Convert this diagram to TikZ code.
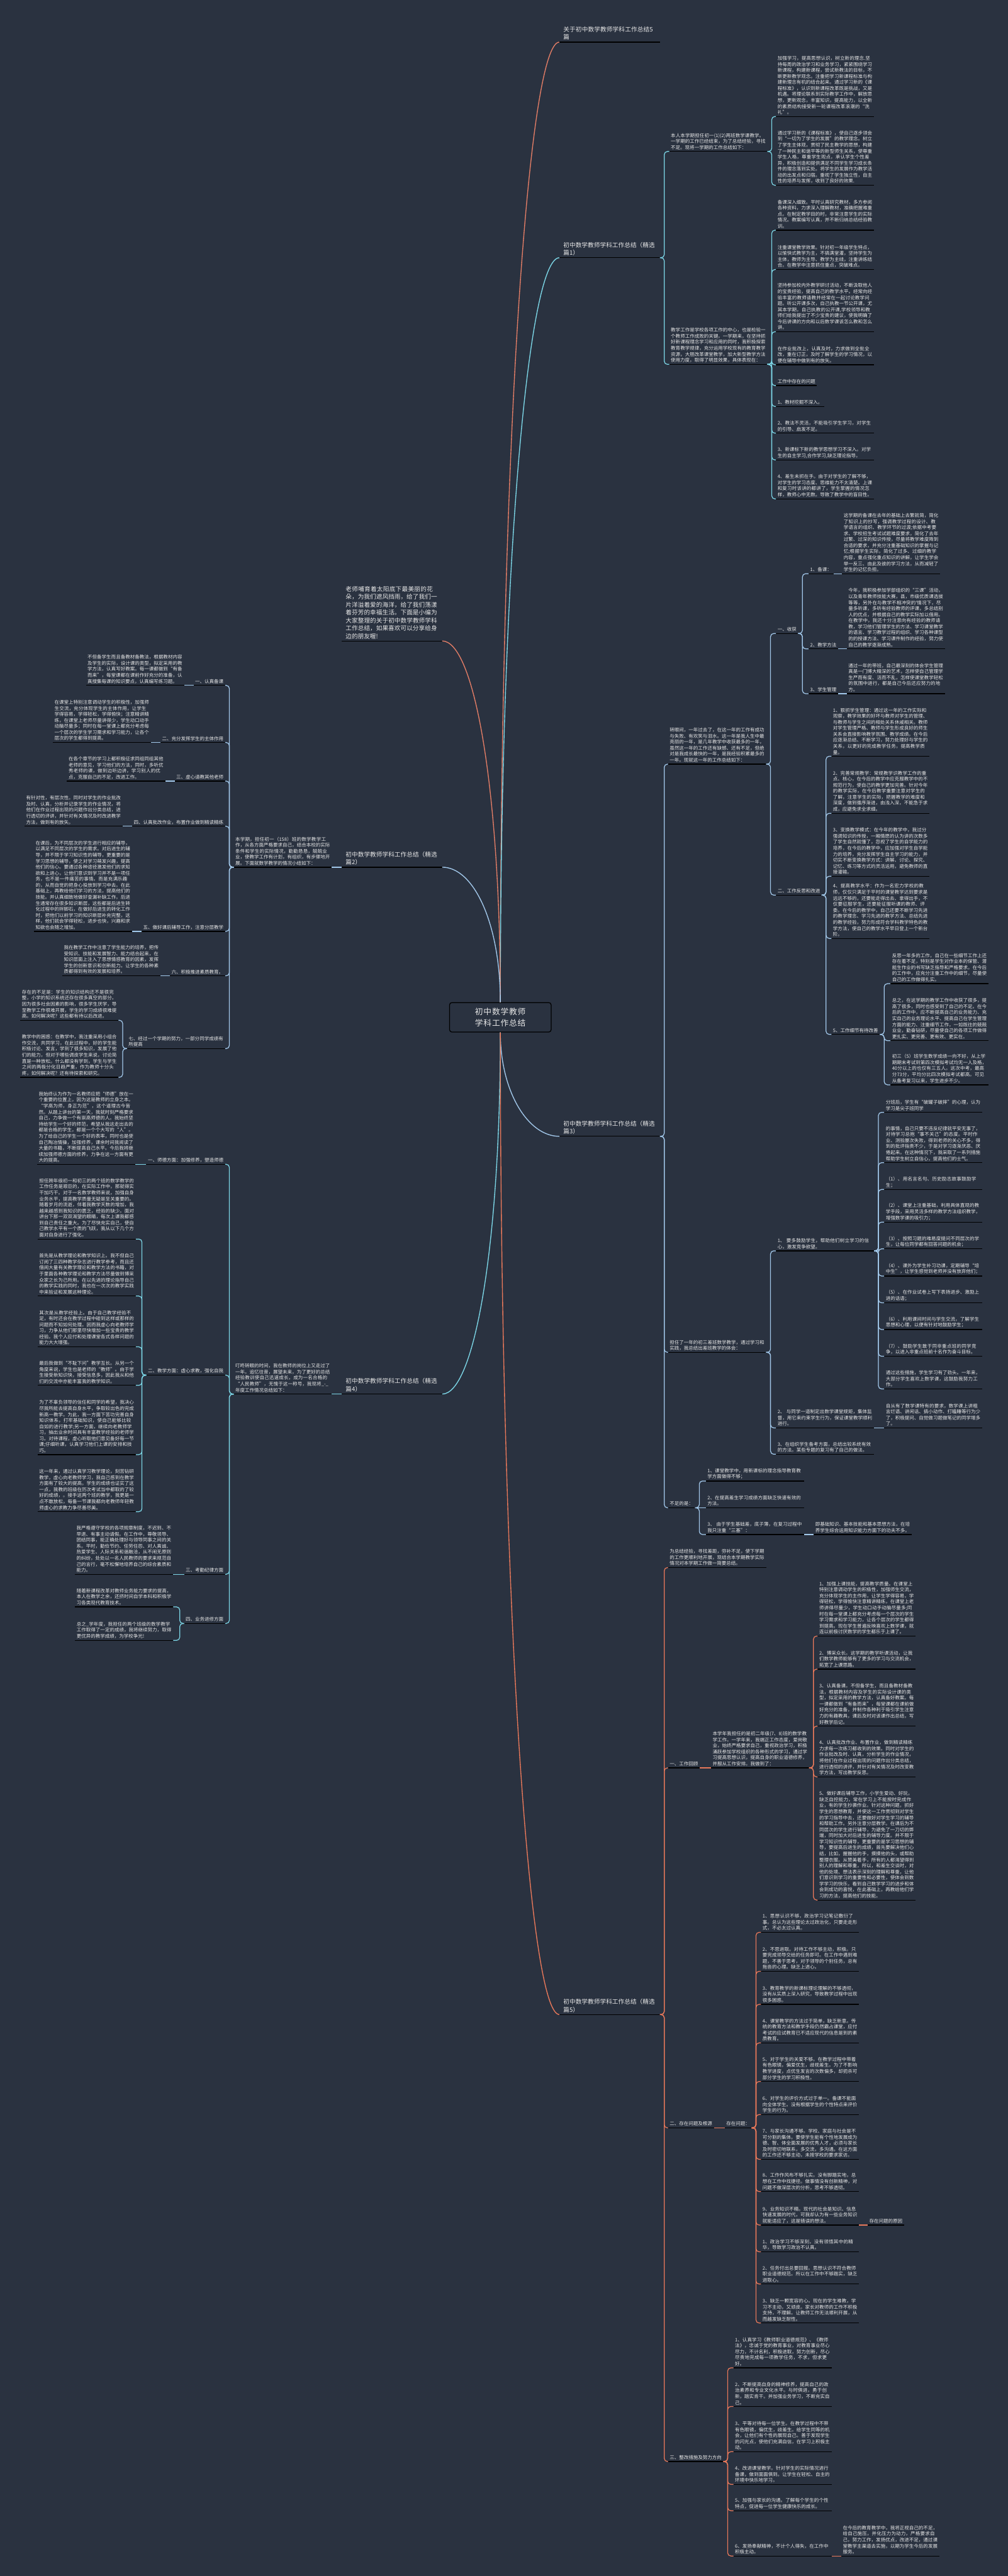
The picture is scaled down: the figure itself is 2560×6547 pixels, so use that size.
\documentclass[tikz,border=0pt]{standalone}
\usepackage{fontspec}
\newfontfamily\cjk{Noto Sans CJK SC}
\XeTeXlinebreaklocale "zh"
\XeTeXlinebreakskip=0pt plus 1pt
\definecolor{bg}{HTML}{2A3240}
\definecolor{txt}{HTML}{E8E8E8}
\definecolor{cA}{HTML}{E27D66}
\definecolor{cB}{HTML}{7CD6E6}
\definecolor{cC}{HTML}{A2C8EA}
\definecolor{cD}{HTML}{E8785A}
\tikzset{
  ulc/.style={draw=black, line width=2pt},
  base/.style={font=\cjk\fontsize{12}{15.3}\selectfont, text=txt, inner xsep=4pt, inner ysep=4.5pt, anchor=south west,
    append after command={(\tikzlastnode.south west) edge[ulc] (\tikzlastnode.south east)}},
  para/.style={base, text width=241pt, align=left},
  lbl/.style={base},
  big/.style={base, font=\cjk\fontsize{15.4}{20}\selectfont, text width=235pt, align=left, inner xsep=10pt, inner ysep=5pt},
  conn/.style={line width=2pt, rounded corners=8pt},
  trunk/.style={line width=2.2pt},
}
\newcommand\linkR[3]{\draw[conn,#1] (#2.south east) -- ++(11,0) |- (#3.south west);}
\newcommand\linkL[3]{\draw[conn,#1] (#2.south west) -- ++(-11,0) |- (#3.south east);}
\newcommand\linkS[3]{\draw[conn,#1] (#2.south east) -- (#3.south west);}
\newcommand\linkSL[3]{\draw[conn,#1] (#2.south west) -- (#3.south east);}
\begin{document}
\begin{tikzpicture}[x=1pt,y=-1pt]
\fill[bg] (0,0) rectangle (2560,6547);
\useasboundingbox (0,0) rectangle (2560,6547);

% centre
\node[draw=black, line width=2pt, fill=bg, rounded corners=6pt, minimum width=258pt, minimum height=75pt, text width=230pt, align=center, font=\cjk\fontsize{20.4}{28}\selectfont, text=txt] (ctr) at (1271,2585.5) {初中数学教师学科工作总结};

% top labels
\node[big] (t0) at (1421,107) {关于初中数学教师学科工作总结5篇};
\node[big] (note) at (868,1629) {老师哺育着太阳底下最美丽的花朵，为我们遮风挡雨，给了我们一片洋溢着爱的海洋，给了我们荡漾着芬芳的幸福生活。下面是小编为大家整理的关于初中数学教师学科工作总结，如果喜欢可以分享给身边的朋友喔!};

% ===== 精选篇1 =====
\node[big] (l1) at (1421,655) {初中数学教师学科工作总结（精选篇1）};
\node[para] (m1a) at (1700,385) {本人本学期担任初一(1)(2)两班数学课教学。一学期的工作已经结束，为了总结经验，寻找不足。现将一学期的工作总结如下：};
\node[para] (m1b) at (1700,926) {教学工作是学校各项工作的中心，也是检验一个教师工作成败的关键。一学期来，在坚持抓好新课程理念学习和应用的同时，我积极探索教育教学规律，充分运用学校现有的教育教学资源，大胆改革课堂教学，加大新型教学方法使用力度，取得了明显效果，具体表现在：};
\node[para] (p1) at (1971,296) {加强学习，提高思想认识，树立新的理念.坚持每周的政治学习和业务学习，紧紧围绕学习新课程，构建新课程，尝试新教法的目标，不断更新教学观念。注重把学习新课程标准与构建新理念有机的结合起来。通过学习新的《课程标准》，认识到新课程改革既是挑战，又是机遇。将理论联系到实际教学工作中，解放思想，更新观念，丰富知识，提高能力，以全新的素质结构接受新一轮课程改革浪潮的“洗礼”。};
\node[para] (p2) at (1971,471) {通过学习新的《课程标准》，使自己逐步领会到“一切为了学生的发展”的教学理念。树立了学生主体观，贯彻了民主教学的思想，构建了一种民主和谐平等的新型师生关系，使尊重学生人格，尊重学生观点，承认学生个性差异，积极创造和提供满足不同学生学习成长条件的理念落到实处。将学生的发展作为教学活动的出发点和归宿。重视了学生独立性，自主性的培养与发挥，收到了良好的效果.};
\node[para] (p3) at (1971,585) {备课深入细致。平时认真研究教材，多方参阅各种资料，力求深入理解教材，准确把握难重点。在制定教学目的时，非常注意学生的实际情况。教案编写认真，并不断归纳总结经验教训。};
\node[para] (p4) at (1971,685) {注重课堂教学效果。针对初一年级学生特点，以愉快式教学为主，不搞满堂灌，坚持学生为主体，教师为主导、教学为主线，注重讲练结合。在教学中注意抓住重点，突破难点。};
\node[para] (p5) at (1971,843) {坚持参加校内外教学研讨活动，不断汲取他人的宝贵经验，提高自己的教学水平。经常向经验丰富的教师请教并经常在一起讨论教学问题。听公开课多次，自己执教一节公开课，尤其本学期，自己执教的公开课,学校领导和教师们给我提出了不少宝贵的建议，使我明确了今后讲课的方向和以后数学课该怎么教和怎么讲。};
\node[para] (p6) at (1971,927) {在作业批改上，认真及时，力求做到全批全改，重在订正，及时了解学生的学习情况，以便在辅导中做到有的放矢。};
\node[lbl] (p7) at (1971,980) {工作中存在的问题};
\node[lbl] (p8) at (1971,1033) {1、教材挖掘不深入。};
\node[para] (p9) at (1971,1101) {2、教法不灵活，不能吸引学生学习，对学生的引导、启发不足。};
\node[para] (p10) at (1971,1169) {3、新课标下新的教学思想学习不深入。对学生的自主学习,合作学习,缺乏理论指导。};
\node[para] (p11) at (1971,1268) {4、差生未抓在手。由于对学生的了解不够，对学生的学习态度、思维能力不太清楚。上课和复习时该讲的都讲了，学生掌握的情况怎样，教师心中无数。导致了教学中的盲目性。};

% ===== 精选篇3 =====
\node[big] (l3) at (1421,2888) {初中数学教师学科工作总结（精选篇3）};
\node[para] (m3a) at (1697,1942) {转眼间，一年过去了，在这一年的工作有成功与失败、有欢笑与泪水。这一年是我人生中最亮丽的一年，是几年教学中收获最多的一年，虽然这一年的工作还有缺憾、还有不足，但绝对是我成长最快的一年，是我经验积累最多的一年。现就这一年的工作总结如下：};
\node[para] (m3b) at (1697,3437) {担任了一年的初三差班数学教学，通过学习和实践，我总结出差班教学的体会：};
\node[lbl] (m3c) at (1697,3832) {不足的是：};
\node[lbl] (s1) at (1971,1610) {一、收获};
\node[lbl] (s2) at (1971,2275) {二、工作反思和改进};
\node[lbl] (qa) at (2054,1458) {1、备课：};
\node[lbl] (qb) at (2054,1649) {2、教学方法};
\node[lbl] (qc) at (2054,1763) {3、学生管理};
\node[para] (qap) at ([xshift=22pt]qa.south east) {这学期的备课在去年的基础上去繁就简，简化了知识上的抄写，强调教学过程的设计、教学语言的组织、教学环节的过渡;依据中考要求、学校招生考试试题难度要求，简化了去年过繁、过深的知识传授，尽量将教学难度降到合适的要求，并充分注重基础知识的掌握与记忆;根据学生实际，简化了过多、过细的教学内容，重点强化重点知识的讲解，让学生学会举一反三、由此及彼的学习方法，从而减轻了学生的记忆负担。};
\node[para] (qbp) at ([xshift=22pt]qb.south east) {今年，我积极参加学部组织的“三课”活动，以及青年教师技能大赛，县，市级优质课选拔等等，另外在与教学不相冲突的'情况下，尽量多听课，多听有经验教师的评课，多总结别人的优点，并根据自己的教学实际加以借用。在教学中，我还十分注意向有经验的教师请教，学习他们管理学生的方法、学习课堂教学的语言、学习教学过程的组织、学习各种课型的的授课方法、学习课件制作的经验，努力使自己的教学逐渐成熟。};
\node[para] (qcp) at ([xshift=22pt]qc.south east) {通过一年的带班，自己最深刻的体会学生管理真是一门博大精深的艺术，怎样使自己管理学生严而有度、活而不乱，怎样使课堂教学轻松的氛围中进行，都是自己今后还应努力的地方。};
\node[para] (r1) at (2112,1922) {1、狠抓学生管理：通过这一年的工作实际和观察，教学效果的好坏与教师对学生的管理、与教师与学生之间的相处关系休戚相关。教师对学生管理严格、教师与学生形成良好的师生关系会直接影响教学氛围、教学成绩。在今后应逐渐总结、不断学习，努力处理好与学生的关系，以更好的完成教学任务，提高教学质量。};
\node[para] (r2) at (2112,2067) {2、完善常规教学：常规教学识教学工作的重点、核心，在今后的教学中应克服教学中的不规范行为，使自己的教学更加完善。针对今年的教学实际，在今后教学重要注意对学生的了解，注意学生的实际，把握教学的难度和深度，做到循序渐进，由浅入深，不能急于求成，应避免求全求细。};
\node[para] (r3) at (2112,2227) {3、变换教学模式：在今年的教学中，我过分强调知识的传授，一厢情愿的认为讲的次数多了学生自然就懂了，忽视了学生的自学能力的培养，在今后的教学中，应加强对学生自学能力的培养，充分发挥学生自主学习的能力，并切实不断变换教学方式：讲解、讨论、探究、记忆、练习等方式的灵活运用，避免教师的直接灌输。};
\node[para] (r4) at (2112,2385) {4、提高教学水平：作为一名宏力学校的教师，仅仅只满足于平时的课堂教学达到要求是远远不够的，还要能走得出去、拿得出手，不仅要征服学生，还要能征服听课的教师、评委。在今后的教学中，自己还要不断学习先进的教学理念、学习先进的教学方法、总结先进的教学经验，努力形成符合学科教学特色的教学方法，使自己的教学水平早日登上一个新台阶。};
\node[lbl] (r5) at (2112,2629) {5、工作细节有待改善};
\node[para] (u1) at (2262,2500) {反思一年多的工作，自己在一些细节工作上还存在着不足，特别是学生对作业本的保管、潜能生作业的书写缺乏指导和严格要求。在今后的工作中，应充分注重工作中的细节，尽量使自己的工作做得扎实。};
\node[para] (u2) at (2262,2645) {总之，在这学期的教学工作中收获了很多，提高了很多，同时也感受到了自己的不足。在今后的工作中，应不断提高自己的业务能力、充实自己的业务理论水平、提高自己在学生管理方面的能力、注重细节工作，一如既往的兢兢业业，勤奋钻研，尽量使自己的各项工作做得更扎实、更完善、更有效、更实在。};
\node[para] (u3) at (2262,2757) {初三（5）班学生数学成绩一向不好，从上学期期末考试到第四次模拟考试均无一人及格，40分以上的也仅有三五人。这次中考，最高分73分，平均分比四次模拟考试都高。可见从备考复习以来，学生进步不少。};
\node[para] (c1) at (1971,3179) {1、 要多鼓励学生，帮助他们树立学习的信心，激发竞争欲望。};
\node[para] (c2) at (1971,3629) {2、 与同学一道制定出数学课堂规矩，集体监督，用它来约束学生行为，保证课堂教学顺利进行。};
\node[para] (c3) at (1971,3696) {3、在组织学生备考方面，总结出较系统有效的方法。某些专题的复习有了自己的做法。};
\node[para] (d1) at (2246,2827) {分班后，学生有“破罐子破摔”的心理，认为学习是尖子班同学};
\node[para] (d2) at (2246,2955) {的事情，自己只要不违反纪律就平安无事了，对待学习总抱“事不关己”的态度。平时作业、测验屡次失败，得到老师的关心不多，得到的批评指责不少，于是对学习逐渐厌恶、厌倦起来。在这种情况下，我采取了一系列措施帮助学生树立自信心，提高他们的士气。};
\node[para] (d3) at (2246,3023) {（1）、用名言名句、历史励志故事鼓励学生；};
\node[para] (d4) at (2246,3106) {（2）、课堂上注重基础，利用具体直观的教学手段，采用灵活多样的教学方法组织教学，增强数学课的吸引力；};
\node[para] (d5) at (2246,3174) {（3）、按照习题的难易度提问不同层次的学生，让每位同学都有回答问题的机会；};
\node[para] (d6) at (2246,3243) {（4）、课外为学生补习功课，定期辅导“培中生”，让学生感觉到老师并没有放弃他们；};
\node[para] (d7) at (2246,3311) {（5）、在作业试卷上写下表扬进步、激励上进的话语；};
\node[para] (d8) at (2246,3379) {（6）、利用课间时间与学生交流，了解学生思想和心理，以便有针对地鼓励学生；};
\node[para] (d9) at (2246,3447) {（7）、鼓励学生敢于同非重点班的同学竞争，以进入非重点班前十名作为奋斗目标。};
\node[para] (d10) at (2246,3530) {通过这些措施，学生学习有了劲头。一年来，大部分学生喜欢上数学课，这鼓励我努力工作。};
\node[para] (c2c) at (2246,3629) {自从有了数学课特有的要求，数学课上讲粗言烂语、讲闲话、搞小动作、打瞌睡等行为少了，积极提问、自觉做习题做笔记的同学增多了。};
\node[para] (e1) at (1793,3764) {1、课堂教学中，用新课标的理念指导教育教学方面做得不够；};
\node[para] (e2) at (1793,3832) {2、在提高差生学习成绩方面缺乏快速有效的方法。};
\node[para] (e3) at (1793,3900) {3、 由于学生基础差，底子薄，在复习过程中我只注重“三基”：};
\node[para] (e3c) at (2067,3900) {即基础知识、基本技能和基本思想方法，在培养学生综合运用知识能力方面下的功夫不多。};

% ===== 精选篇5 =====
\node[big] (l5) at (1421,5120) {初中数学教师学科工作总结（精选篇5）};
\node[para] (f1) at (1697,3984) {为总结经验，寻找差距，弥补不足，使下学期的工作更顺利地开展，现结合本学期教学实际情况对本学期工作做一简要总结。};
\node[lbl] (f2) at (1697,4493) {一、工作回顾};
\node[lbl] (f3) at (1697,5408) {二、存在问题及根源};
\node[lbl] (f4) at (1697,6256) {三、整改措施及努力方向};
\node[para] (g) at (1806,4493) {本学年我担任的是初二年级(7、8)班的数学教学工作。一学年来，我端正工作态度，爱岗敬业，始终严格要求自己，重视政治学习，积极涌跃参加学校组织的各种形式的学习，通过学习提高思想认识，提高自身的职业道德修养，并服从工作安排。我做到了：};
\node[para] (h1) at (2077,4158) {1、加强上课技能，提高教学质量。在课堂上特别注意调动学生的积极性，加强师生交流，充分体现学生的主作用，让学生学得容易，学得轻松，学得愉快注意精讲精练，在课堂上老师讲得尽量少，学生动口动手动脑尽量多;同时在每一堂课上都充分考虑每一个层次的学生学习需求和学习能力，让各个层次的学生都得到提高。现在学生普遍反映喜欢上数学课，就连以前极讨厌数学的学生都乐于上课了。};
\node[para] (h2) at (2077,4242) {2、博采众长。这学期的教学听课活动，让我们数学教师能够有了更多的学习与交流机会，拓宽了上课思路。};
\node[para] (h3) at (2077,4387) {3、认真备课。不但备学生，而且备教材备教法，根据教材内容及学生的实际设计课的类型，拟定采用的教学方法，认真备好教案。每一课都做到“有备而来”，每堂课都在课前做好充分的准备，并制作各种利于吸引学生注意力的有趣教具，课后及时对该课作出总结，写好教学后记。};
\node[para] (h4) at (2077,4516) {4、认真批改作业、布置作业，做到精读精练力求每一次练习都收到的效果。同时对学生的作业批改及时、认真，分析学生的作业情况，将他们在作业过程出现的问题作出分类总结，进行透彻的讲评，并针对有关情况及时改变教学方法，写出教学反思。};
\node[para] (h5) at (2077,4829) {5、做好课后辅导工作，小学生爱动、好玩，缺乏自控能力，常在学习上不能按时完成作业，有的学生抄袭作业。针对这种问题，抓好学生的思想教育，并使这一工作贯彻到对学生的学习指导中去，还要做好对学生学习的辅导和帮助工作。另外注意分层教学。在课后为不同层次的学生进行辅导，为避免了一刀切的弊端，同时加大对后进生的辅导力度。并不限于学习知识性的辅导，更重要的是学习思想的辅导，要提高后进生的成绩，首先要解决他们心结，比如，握握他的手，摸摸他的头，或帮助整理衣服。从赞美着手，所有的人都渴望得到别人的理解和尊重，所以，和差生交谈时，对他的处境、想法表示深刻的理解和尊重，让他们意识到学习的重要性和必要性，使体会到数学学习的快乐，看到自己数学学习的进步和体会到成功的喜悦，在此基础上，再教给他们学习的方法，提高他们的技能。};
\node[lbl] (f3a) at (1841,5408) {存在问题：};
\node[para] (i1) at (1933,4911) {1、思想认识不够，政治学习记笔记敷衍了事。总认为这些理论太过政治化，只要走走形式，不必太过认真。};
\node[para] (i2) at (1933,5010) {2、不思进取。对待工作不够主动，积极。只要完成领导交给的任务即可。在工作中遇到难题，不善于思考，对于领导的个别任务，总有拖沓的心理。缺乏上进心。};
\node[para] (i3) at (1933,5094) {3、教育教学的新课标理论理解的不够透彻，没有从实质上深入研究，导致教学过程中出现很多困惑。};
\node[para] (i4) at (1933,5192) {4、课堂教学的方法过于简单，缺乏新意。传统的教育方法和教学手段仍然霸占课堂，应付考试的应试教育已不适应现代的信息是到的素质教育。};
\node[para] (i5) at (1933,5290) {5、对于学生的关爱不够。在教学过程中带着有色眼镜，偏爱优生，歧视差生。为了不影响教学进度，点优生发言的次数偏多，却扼杀可部分学生的学习积极性。};
\node[para] (i6) at (1933,5374) {6、对学生的评价方式过于单一。备课不能面向全体学生。没有根据学生的个性特点来评价学生的行为。};
\node[para] (i7) at (1933,5488) {7、与家长沟通不够。学校、家庭与社会是不可分割的集体。要使学生能有个性地发展成为德、智、体全面发展的优秀人才，必须与家长及时密切地联系，多交流，多沟通。在这方面的工作还不够主动，未按学校的要求家访。};
\node[para] (i8) at (1933,5570) {8、工作作风布不够扎实。没有脚踏实地，总想在工作中找捷径。做事情没有创新精神，对问题不做深层次的分析，思考不够透彻。};
\node[para] (i9) at (1933,5655) {9、业务知识不精。现代的社会是知识、信息快速发展的时代，可我却认为有一些业务知识就能适应了，这是错误的想法。};
\node[lbl] (i9c) at (2204,5655) {存在问题的原因};
\node[para] (j1) at (1933,5723) {1、政治学习不够深刻，没有领悟其中的精华，导致学习政治不认真。};
\node[para] (j2) at (1933,5805) {2、任务付出总要回报。思想认识不符合教师职业道德规范。所以在工作中不够踏实，缺乏进取心。};
\node[para] (j3) at (1933,5904) {3、缺乏一颗宽容的心。现在的学生难教，学习不主动，又顽皮。家长对教师的工作不积极支持，不理解。让教师工作无法顺利开展，从而越发缺乏耐性。};
\node[para] (k1) at (1863,6018) {1、认真学习《教师职业道德规范》、《教师法》，忠诚于党的教育事业，对教育事业尽心尽力，不计名利，积极进取，努力创新，尽心尽责地完成每一项教学任务，不求，但求更好。};
\node[para] (k2) at (1863,6116) {2、不断提高自身的精神修养，提高自己的政治素养和专业文化水平。与时俱进，勇于创新，踏实肯干。并加强业务学习，不断充实自己。};
\node[para] (k3) at (1863,6231) {3、平等对待每一位学生。在教学过程中不带有色眼镜，偏优生，歧差生。给学生同等的机会，让他们有个性的展现自己。善于发现学生的闪光点，使他们充满自信，在学习上积极主动。};
\node[para] (k4) at (1863,6314) {4、改进课堂教学。针对学生的实际情况进行备课，做到面面俱到。让学生在轻松、自主的环境中快乐地学习。};
\node[para] (k5) at (1863,6381) {5、加强与家长的沟通。了解每个学生的个性特点，促进每一位学生健康快乐的成长。};
\node[para] (k6) at (1863,6496) {6、发扬奉献精神，不计个人得失，在工作中积极主动。};
\node[para] (k6c) at (2137,6496) {在今后的教育教学中，我将正视自己的不足，给自己施压，并化压力为动力，严格要求自己，努力工作，发扬优点，改进不足，通过课堂教学主渠道去实施，以期为学生今后的发展服务。};

% ===== 精选篇2 (left) =====
\node[big] (l2) at (868,2204) {初中数学教师学科工作总结（精选篇2）};
\node[para, anchor=south east] (m2) at (843,2204) {本学期，担任初一（158）班的数学教学工作，从各方面严格要求自己，结合本校的实际条件和学生的实际情况，勤勤恳恳，兢兢业业，使教学工作有计划，有组织，有步骤地开展。下面就数学教学的情况小结如下：};
\node[lbl, anchor=south east] (a1) at (572,1742) {一、认真备课};
\node[lbl, anchor=south east] (a2) at (572,1887) {二、充分发挥学生的主体作用};
\node[lbl, anchor=south east] (a3) at (572,1985) {三、虚心请教其他老师};
\node[lbl, anchor=south east] (a4) at (572,2100) {四、认真批改作业，布置作业做到精读精练};
\node[lbl, anchor=south east] (a5) at (572,2367) {五、做好课后辅导工作，注意分层教学};
\node[lbl, anchor=south east] (a6) at (572,2480) {六、积极推进素质教育。};
\node[para, anchor=south east] (a7) at (572,2665) {七、经过一个学期的努力，一部分同学成绩有所提高};
\node[para, anchor=south east] (a1p) at ([xshift=-24pt]a1.south west) {不但备学生而且备教材备教法，根据教材内容及学生的实际，设计课的类型，拟定采用的教学方法，认真写好教案。每一课都做到“有备而来”，每堂课都在课前作好充分的准备，认真搜集每课的知识要点，认真编写练习题。};
\node[para, anchor=south east] (a2p) at ([xshift=-24pt]a2.south west) {在课堂上特别注意调动学生的积极性，加强师生交流，充分体现学生的主体作用，让学生学得容易，学得轻松，学得愉快；注意精讲精练，在课堂上老师尽量讲得少，学生动口动手动脑尽量多；同时在每一堂课上都充分考虑每一个层次的学生学习需求和学习能力，让各个层次的学生都得到提高。};
\node[para, anchor=south east] (a3p) at ([xshift=-24pt]a3.south west) {在各个章节的学习上都积极征求同组同组其他老师的意见，学习他们的方法，同时，多听优秀老师的课，做到边听边讲，学习别人的优点，克服自己的不足，改进工作。};
\node[para, anchor=south east] (a4p) at ([xshift=-24pt]a4.south west) {有针对性，有层次性。同时对学生的作业批改及时、认真，分析并记录学生的作业情况，将他们在作业过程出现的问题作出分类总结，进行透切的评讲，并针对有关情况及时改进教学方法，做到有的放矢。};
\node[para, anchor=south east] (a5p) at ([xshift=-24pt]a5.south west) {在课后，为不同层次的学生进行相应的辅导，以满足不同层次的学生的需求。对后进生的辅导，并不限于学习知识性的辅导，更重要的是学习思想的辅导，使之对学习萌发兴趣，提高他们的信心。要通过各种途径激发他们的求知欲和上进心，让他们意识到学习并不是一项任务，也不是一件痛苦的事情。而是充满乐趣的，从而自觉的把身心投放到学习中去。在此基础上，再教给他们学习的方法，提高他们的技能。并认真细致地做好查漏补缺工作。后进生通常存在很多知识断层，这些都是后进生转化过程中的拌脚石，在做好后进生的转化工作时，把他们以前学习的知识断层补充完整，这样，他们就会学得轻松，进步也快，兴趣和求知欲也会随之增加。};
\node[para, anchor=south east] (a6p) at ([xshift=-24pt]a6.south west) {我在教学工作中注意了学生能力的培养，把传受知识、技能和发展智力、能力结合起来，在知识层面上注入了思想情感教育的因素，发挥学生的创新意识和创新能力。让学生的各种素质都得到有效的发展和培养。};
\node[para, anchor=south east] (a7a) at (301,2593) {存在的不足是：学生的知识结构还不是很完整，小学的知识系统还存在很多真空的部分。因为很多社会因素的影响，很多学生厌学，导至教学工作很难开展，学生的学习成绩很难提高。如何解决呢？这些都有待以后改进。};
\node[para, anchor=south east] (a7b) at (301,2738) {教学中的困惑：在教学中，我注重采用小组合作交流，共同学习，在此过程中，好的学生能积极讨论、发言，学到了很多知识，发展了他们的能力，但对于哪些调皮学生来说，讨论简直是一种放松。什么都没有学到，学生与学生之间的两极分化日趋严重，作为教师十分头疼，如何解决呢？还有待探索和研究。};

% ===== 精选篇4 (left) =====
\node[big] (l4) at (868,3543) {初中数学教师学科工作总结（精选篇4）};
\node[para, anchor=south east] (m4) at (843,3543) {叮咚转眼的时间，我在教师的岗位上又走过了一年。追忆往昔，展望未来，为了更好的总结经验教训使自己迅速成长，成为一名合格的“人民教师”，无愧于这一称号，我现将\_-\_年度工作情况总结如下：};
\node[lbl, anchor=south east] (b1) at (572,2959) {一、师德方面：加强修养，塑造师德};
\node[lbl, anchor=south east] (b2) at (572,3495) {二、教学方面：虚心求教，强化自我};
\node[lbl, anchor=south east] (b3) at (572,4001) {三、考勤纪律方面};
\node[lbl, anchor=south east] (b4) at (572,4126) {四、业务进修方面};
\node[para, anchor=south east] (b1p) at ([xshift=-28pt]b1.south west) {我始终认为作为一名教师应把“师德”放在一个重要的位置上，因为这是教师的立身之本。“学高为师，身正为范”，这个道理古今皆然。从踏上讲台的第一天，我就时刻严格要求自己，力争做一个有崇高师德的人。我始终坚持给学生一个好的师范，希望从我这走出去的都是合格的学生，都是一个个大写的“人”。为了给自己的学生一个好的表率，同时也是使自己陶冶情操，加强修养，课余时间我阅读了大量的书籍，不断提高自己水平。今后我将继续加强师德方面的修养，力争在这一方面有更大的提高。};
\node[para, anchor=south east] (b2a) at (345,3149) {担任跨年级初一和初三的两个班的数学教学的工作任务是艰巨的，在实际工作中，那就得实干加巧干。对于一名数学教师来说，加强自身业务水平，提高教学质量无疑是至关重要的。随着岁月的流逝，伴着我教学天数的增加，我越来越感到我知识的匮乏，经验的缺少。面对讲台下那一双双渴望的眼睛，每次上课我都感到自己责任之重大。为了尽快充实自己，使自己教学水平有一个质的飞跃，我从以下几个方面对自身进行了强化。};
\node[para, anchor=south east] (b2b) at (345,3294) {首先是从教学理论和教学知识上。我不但自己订阅了三四种教学杂志进行教学参考，而且还借阅大量有关教学理论和教学方法的书籍，对于里面各种教学理论和教学方法尽量做到博采众家之长为己所用。在以先进的理论指导自己的教学实践的同时，我也在一次次的教学实践中来验证和发展这种理论。};
\node[para, anchor=south east] (b2c) at (345,3423) {其次是从教学经验上。由于自己教学经验不足，有时还会在教学过程中碰到这样或那样的问题而不知如何处理。因而我虚心向老教师学习，力争从他们那里尽快增加一些宝贵的教学经验。我个人应付和处理课堂各式各样问题的能力大大增强。};
\node[para, anchor=south east] (b2d) at (345,3521) {最后我做到“不耻下问”教学互长。从另一个角度来说，学生也是老师的“教师”。由于学生接受新知识快，接受信息多，因此我从和他们的交流中亦能丰富我的教学知识。};
\node[para, anchor=south east] (b2e) at (345,3697) {为了不辜负领导的信任和同学的希望，我决心尽我所能去提高自身水平，争取较出色的完成新高一教学。为此，我一方面下苦功完善自身知识体系，打牢基础知识，使自己能够比较自如的进行教学;另一方面，继续向老教师学习，抽出业余时间具有丰富教学经验的老师学习。对待课程，虚心听取他们意见备好每一节课;仔细听课，认真学习他们上课的安排和技巧。};
\node[para, anchor=south east] (b2f) at (345,3842) {这一年来，通过认真学习教学理论，刻苦钻研教学，虚心向老教师学习，我自己感到在教学方面有了较大的提高。学生的成绩也证实了这一点，我教的班级在历次考试当中都取的了较好的成绩，。接手这两个班的教学，我更是一点不敢放松，每备一节课我都向老教师年轻教师虚心的求教力争尽善尽美。};
\node[para, anchor=south east] (b3p) at ([xshift=-28pt]b3.south west) {我严格遵守学校的各项规章制度，不迟到、不早退、有事主动请假。在工作中，尊敬领导、团结同事，能正确处理好与领导同事之间的关系。平时，勤俭节约、任劳任怨、对人真诚、热爱学生、人际关系和谐融洽，从不闹无原则的纠纷，处处以一名人民教师的要求来规范自己的言行，毫不松懈地培养自己的综合素质和能力。};
\node[para, anchor=south east] (b4a) at (440,4084) {随着新课程改革对教师业务能力要求的提高，本人在教学之余，还挤时间自学本科和积极学习各类现代教育技术。};
\node[para, anchor=south east] (b4b) at (440,4169) {总之\_学年度，我担任的两个班级的数学教学工作取得了一定的成绩，我将继续努力，取得更优异的教学成绩，为学校争光!};

% ===== trunks =====
\draw[trunk,cA] (ctr.north) .. controls +(0,-1400) and +(-80,0) .. (t0.south west);
\draw[trunk,cB] (ctr.north) .. controls +(0,-1100) and +(-80,0) .. (l1.south west);
\draw[trunk,cA] (ctr.north) .. controls +(0,-550) and +(80,0) .. (note.south east);
\draw[trunk,cC] (ctr.north) .. controls +(0,-200) and +(80,0) .. (l2.south east);
\draw[trunk,cC] (ctr.south) .. controls +(0,150) and +(-80,0) .. (l3.south west);
\draw[trunk,cB] (ctr.south) .. controls +(0,550) and +(80,0) .. (l4.south east);
\draw[trunk,cD] (ctr.south) .. controls +(0,1400) and +(-80,0) .. (l5.south west);

% ===== links 精选篇1 =====
\foreach \c in {m1a,m1b} {\linkR{cB}{l1}{\c}}
\foreach \c in {p1,p2} {\linkR{cB}{m1a}{\c}}
\foreach \c in {p3,p4,p5,p6,p7,p8,p9,p10,p11} {\linkR{cB}{m1b}{\c}}

% ===== links 精选篇3 =====
\foreach \c in {m3a,m3b,m3c} {\linkR{cC}{l3}{\c}}
\foreach \c in {s1,s2} {\linkR{cC}{m3a}{\c}}
\foreach \c in {qa,qb,qc} {\linkR{cC}{s1}{\c}}
\linkS{cC}{qa}{qap}
\linkS{cC}{qb}{qbp}
\linkS{cC}{qc}{qcp}
\foreach \c in {r1,r2,r3,r4,r5} {\linkR{cC}{s2}{\c}}
\foreach \c in {u1,u2,u3} {\linkR{cC}{r5}{\c}}
\foreach \c in {c1,c2,c3} {\linkR{cC}{m3b}{\c}}
\foreach \c in {d1,d2,d3,d4,d5,d6,d7,d8,d9,d10} {\linkR{cC}{c1}{\c}}
\linkS{cC}{c2}{c2c}
\linkR{cC}{m3c}{e1}
\linkS{cC}{m3c}{e2}
\linkR{cC}{m3c}{e3}
\linkS{cC}{e3}{e3c}

% ===== links 精选篇5 =====
\foreach \c in {f1,f2,f3,f4} {\linkR{cD}{l5}{\c}}
\linkS{cD}{f2}{g}
\foreach \c in {h1,h2,h3,h4,h5} {\linkR{cD}{g}{\c}}
\linkS{cD}{f3}{f3a}
\foreach \c in {i1,i2,i3,i4,i5,i6,i7,i8,i9,j1,j2,j3} {\linkR{cD}{f3a}{\c}}
\linkS{cD}{i9}{i9c}
\foreach \c in {k1,k2,k3,k4,k5,k6} {\linkR{cD}{f4}{\c}}
\linkS{cD}{k6}{k6c}

% ===== links 精选篇2 =====
\linkSL{cC}{l2}{m2}
\foreach \c in {a1,a2,a3,a4,a5,a6,a7} {\linkL{cC}{m2}{\c}}
\linkSL{cC}{a1}{a1p}
\linkSL{cC}{a2}{a2p}
\linkSL{cC}{a3}{a3p}
\linkSL{cC}{a4}{a4p}
\linkSL{cC}{a5}{a5p}
\linkSL{cC}{a6}{a6p}
\foreach \c in {a7a,a7b} {\linkL{cC}{a7}{\c}}

% ===== links 精选篇4 =====
\linkSL{cB}{l4}{m4}
\foreach \c in {b1,b2,b3,b4} {\linkL{cB}{m4}{\c}}
\linkSL{cB}{b1}{b1p}
\foreach \c in {b2a,b2b,b2c,b2d,b2e,b2f} {\linkL{cB}{b2}{\c}}
\linkSL{cB}{b3}{b3p}
\foreach \c in {b4a,b4b} {\linkL{cB}{b4}{\c}}
\end{tikzpicture}
\end{document}
